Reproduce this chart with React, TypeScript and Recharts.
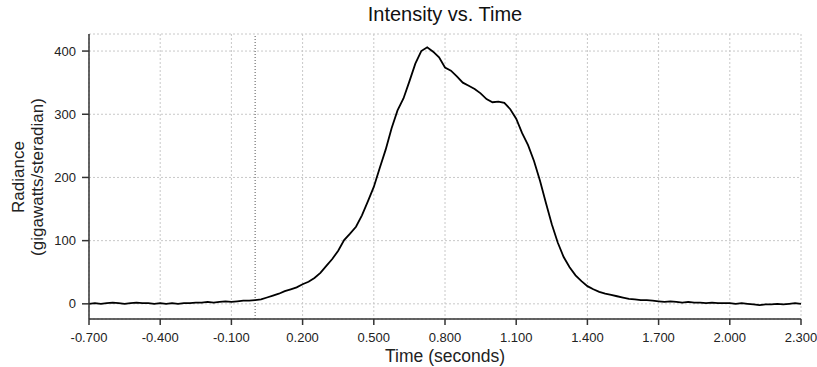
import {
  CartesianGrid,
  Line,
  LineChart,
  ReferenceLine,
  XAxis,
  YAxis,
} from "recharts"

// time in seconds, sampled every 0.025 s
const times: number[] = [
  -0.7, -0.675, -0.65, -0.625, -0.6, -0.575, -0.55, -0.525, -0.5, -0.475,
  -0.45, -0.425, -0.4, -0.375, -0.35, -0.325, -0.3, -0.275, -0.25, -0.225,
  -0.2, -0.175, -0.15, -0.125, -0.1, -0.075, -0.05, -0.025, 0, 0.025,
  0.05, 0.075, 0.1, 0.125, 0.15, 0.175, 0.2, 0.225, 0.25, 0.275,
  0.3, 0.325, 0.35, 0.375, 0.4, 0.425, 0.45, 0.475, 0.5, 0.525,
  0.55, 0.575, 0.6, 0.625, 0.65, 0.675, 0.7, 0.725, 0.75, 0.775,
  0.8, 0.825, 0.85, 0.875, 0.9, 0.925, 0.95, 0.975, 1.0, 1.025,
  1.05, 1.075, 1.1, 1.125, 1.15, 1.175, 1.2, 1.225, 1.25, 1.275,
  1.3, 1.325, 1.35, 1.375, 1.4, 1.425, 1.45, 1.475, 1.5, 1.525,
  1.55, 1.575, 1.6, 1.625, 1.65, 1.675, 1.7, 1.725, 1.75, 1.775,
  1.8, 1.825, 1.85, 1.875, 1.9, 1.925, 1.95, 1.975, 2.0, 2.025,
  2.05, 2.075, 2.1, 2.125, 2.15, 2.175, 2.2, 2.225, 2.25, 2.275,
  2.3,
]

// radiance, gigawatts/steradian
const radiance: number[] = [
  0, 1, 0, 1, 2, 1, 0, 1, 2, 1,
  1, 0, 1, 0, 1, 0, 1, 1, 2, 2,
  3, 2, 3, 4, 3, 4, 5, 5, 6, 7,
  10, 13, 16, 20, 23, 26, 31, 35, 41, 49,
  60, 71, 84, 101, 111, 122, 140, 162, 185, 215,
  244, 278, 306, 325, 352, 380, 400, 406, 399, 390,
  374, 369, 360, 350, 345, 340, 333, 324, 319, 320,
  318, 308, 293, 270, 251, 226, 195, 160, 126, 97,
  74, 58, 45, 36, 28, 23, 19, 16, 14, 12,
  10, 8, 7, 6, 6, 5, 4, 3, 4, 3,
  2, 3, 2, 2, 1, 2, 1, 1, 1, 0,
  1, 0, -1, -2, -1, -1, 0, -1, 0, 1,
  0,
]

const xTicks = [-0.7, -0.4, -0.1, 0.2, 0.5, 0.8, 1.1, 1.4, 1.7, 2.0, 2.3]
const yTicks = [0, 100, 200, 300, 400]

const data = times.map((t, i) => ({ t, v: radiance[i] }))

const font = "'Liberation Sans', Arial, sans-serif"
const axisColor = "#333"

const YLabel = () => (
  <g fontFamily={font} fontSize={17} fill="#222">
    <text transform="translate(18, 177) rotate(-90)" textAnchor="middle" dominantBaseline="central">
      Radiance
    </text>
    <text transform="translate(37, 177) rotate(-90)" textAnchor="middle" dominantBaseline="central">
      (gigawatts/steradian)
    </text>
  </g>
)

const XLabel = () => (
  <text x={445} y={362} textAnchor="middle" fontFamily={font} fontSize={17.5} fill="#222">
    Time (seconds)
  </text>
)

export default function App() {
  return (
    <div style={{ position: "absolute", left: 0, top: 0, width: 817, height: 367, background: "#fff" }}>
      <div
        style={{
          position: "absolute",
          left: 89,
          width: 712,
          top: 3,
          textAlign: "center",
          fontFamily: font,
          fontSize: 20,
          color: "#111",
        }}
      >
        Intensity vs. Time
      </div>
      <LineChart
        width={817}
        height={367}
        data={data}
        margin={{ top: 34, right: 16, bottom: 0, left: 0 }}
      >
        <CartesianGrid stroke="#c8c8c8" strokeDasharray="2 2" />
        <XAxis
          dataKey="t"
          type="number"
          domain={[-0.7, 2.3]}
          ticks={xTicks}
          interval={0}
          allowDataOverflow
          tickFormatter={(v: number) => v.toFixed(3)}
          height={48}
          stroke={axisColor}
          strokeWidth={1.5}
          tickSize={6}
          tickMargin={8}
          tick={{ fill: "#222", fontSize: 13, fontFamily: font }}
          label={<XLabel />}
        />
        <XAxis
          xAxisId="top"
          orientation="top"
          dataKey="t"
          type="number"
          domain={[-0.7, 2.3]}
          height={0}
          tick={false}
          tickLine={false}
          stroke={axisColor}
          strokeWidth={1.5}
        />
        <YAxis
          type="number"
          domain={[-24, 427]}
          ticks={yTicks}
          interval={0}
          allowDataOverflow
          width={89}
          stroke={axisColor}
          strokeWidth={1.5}
          tickSize={7}
          tickMargin={6}
          tick={{ fill: "#222", fontSize: 13, fontFamily: font }}
          label={<YLabel />}
        />
        <YAxis
          yAxisId="right"
          orientation="right"
          type="number"
          domain={[-24, 427]}
          width={0}
          tick={false}
          tickLine={false}
          stroke={axisColor}
          strokeWidth={1.5}
        />
        <ReferenceLine x={0} stroke="#555" strokeDasharray="1 2" />
        <Line
          type="linear"
          dataKey="v"
          stroke="#000"
          strokeWidth={1.8}
          dot={false}
          isAnimationActive={false}
        />
      </LineChart>
    </div>
  )
}
